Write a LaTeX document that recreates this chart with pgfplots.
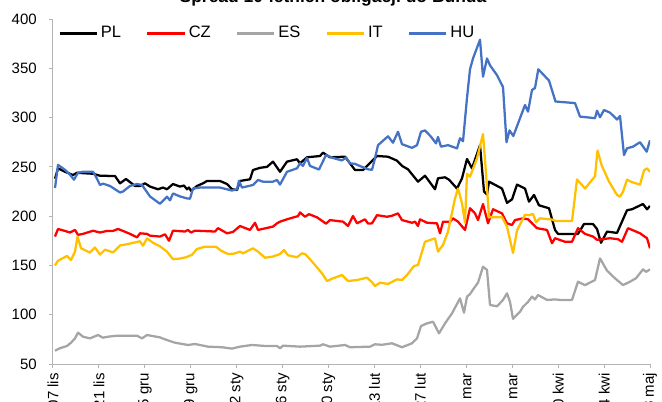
\documentclass[border=0pt]{standalone}
\usepackage{pgfplots}
\pgfplotsset{compat=1.18}
\usepackage{fontspec}
\setmainfont{Liberation Sans}
\definecolor{axisgray}{RGB}{180,180,180}
\definecolor{czred}{RGB}{255,0,0}
\definecolor{esgray}{RGB}{165,165,165}
\definecolor{itgold}{RGB}{255,192,0}
\definecolor{hublue}{RGB}{68,114,196}
\begin{document}
\begin{tikzpicture}
\begin{axis}[
  at={(0,0)}, anchor=south west,
  scale only axis,
  width=447.75pt, height=258.75pt,
  xmin=53, xmax=650, ymin=50, ymax=400,
  axis x line=bottom, axis y line=left,
  axis line style={draw=axisgray, line width=0.75pt, -},
  tick style={draw=axisgray, line width=0.75pt},
  tick align=outside, major tick length=3pt,
  xtick={53,98.92,144.85,190.77,236.69,282.62,328.54,374.46,420.38,466.31,512.23,558.15,604.08,650},
  xticklabels={07 lis,21 lis,05 gru,19 gru,02 sty,16 sty,30 sty,13 lut,27 lut,13 mar,27 mar,10 kwi,24 kwi,08 maj},
  ytick={50,100,...,400},
  /pgf/number format/assume math mode=true,
  tick label style={font=\fontsize{11.25pt}{13pt}\selectfont, text=black},
  xticklabel style={yshift=-3.75pt, rotate=90, anchor=east, inner sep=0pt},
  yticklabel style={anchor=east, inner sep=0pt, xshift=-9pt},
  line join=round,
  every axis plot/.append style={line width=1.7pt},
  legend columns=-1,
  legend image code/.code={\draw[#1, line width=2.2pt] (0pt,0pt) -- (28pt,0pt);},
  legend style={at={(rel axis cs:0.008,0.959)}, anchor=west, draw=none, fill=none,
    font=\fontsize{12.4pt}{14pt}\selectfont, inner sep=0pt,
    nodes={inner sep=2pt},
    /tikz/every even column/.append style={column sep=16.5pt}},
]
\addplot[black] coordinates {(55,238) (58,248.5) (65,245) (73,241.7) (77,244) (93,243) (100,241) (115,240.7) (120,233.3) (126,237.7) (135,230.6) (140,230.6) (145,233.3) (150,230) (158,227.3) (163,229) (167,227.3) (173,232.6) (180,230) (184,231) (187,227.3) (189,229) (191,225.7) (197,230.6) (203,233.3) (207,235.7) (220,235.7) (227,232.6) (232,227.3) (237,226.5) (240,235.7) (250,237.4) (253,246.8) (260,249) (267,250) (273,255.3) (280,245) (287,255.3) (297,257.7) (300,253.6) (307,259.7) (320,261) (323,264.4) (330,259.7) (345,260.3) (355,246.8) (363,246.8) (368,252) (377,261) (388,260.3) (397,256.3) (402,251) (408,247.5) (418,235) (425,241) (435,227.3) (438,238.4) (445,239.4) (449,237) (457,228) (462,238.4) (467,258) (472,248.5) (480,272) (484,225) (487,222) (489,235) (502,228) (507,213.5) (512,217) (517,232) (525,228) (529,214.7) (534,221.5) (539,211) (549,208) (555,186) (558,182) (578,182) (584,192) (593,192) (597,187) (601,173) (607,184.3) (617,183) (622,194.5) (627,206) (632,207) (643,212.3) (647,207) (650,210.3)};
\addlegendentry{PL}
\addplot[czred] coordinates {(55,179.3) (58,187) (65,185) (70,183.4) (75,186) (78,181) (83,182) (93,185.2) (100,183.4) (107,185) (113,185) (118,187) (123,185) (130,182) (137,178.5) (140,182.6) (147,182) (150,180.2) (160,179.3) (165,181.6) (169,175) (173,185.3) (185,184.4) (188,186) (191,183.4) (195,185.3) (215,184.4) (218,187.8) (227,182.6) (233,184) (240,190) (250,186) (255,193.3) (258,186) (273,189.4) (277,192.7) (280,194.4) (287,196.8) (293,198.6) (298,200) (300,203.8) (305,199.4) (309,202) (317,198.8) (326,192.4) (330,196) (343,194.4) (348,190) (353,200.2) (357,192.7) (365,196.8) (368,192.5) (372,192.7) (377,201) (387,199.4) (392,200.4) (398,202.8) (402,196) (412,193.3) (415,194.4) (418,190) (420,196.8) (427,193.3) (437,192.7) (440,182.6) (443,194.4) (450,194.4) (453,197.8) (458,194.4) (465,186) (470,208) (475,202.8) (478,196) (483,212.3) (488,192.7) (493,207) (502,202.8) (507,192.7) (512,191) (515,196) (523,197.8) (528,196.8) (532,192.7) (537,187.8) (547,186) (552,172.5) (555,177.6) (565,174) (572,174) (578,187.8) (585,182) (593,179.3) (597,176) (602,176.6) (610,177.6) (618,176.6) (622,174) (628,187.8) (640,182.6) (647,177.6) (650,167.4)};
\addlegendentry{CZ}
\addplot[esgray] coordinates {(55,63.5) (60,66) (67,68.3) (71,71.6) (75,76) (78,81.8) (83,77.7) (90,76) (98,79.4) (103,76.7) (108,77.7) (117,78.7) (137,78.7) (142,76) (147,79.4) (160,77) (165,75) (175,71.6) (188,69.3) (195,70.3) (208,67.6) (222,67) (232,65.6) (240,67.6) (252,69.3) (265,68.3) (277,68.3) (280,65.9) (283,68.6) (300,67.6) (320,68.6) (323,70) (330,67.6) (345,69.3) (350,67) (370,67.6) (375,70) (382,69.5) (392,71) (402,67) (412,71) (417,76) (421,88.5) (427,91.2) (433,92.9) (439,81.1) (445,91.2) (452,101.4) (460,116.6) (464,102) (467,118.3) (470,121) (475,128.4) (478,132.5) (483,148.7) (487,145.4) (490,109.9) (497,108.5) (503,115) (507,121.7) (510,113) (513,95.8) (520,103) (523,108) (528,113) (532,118.3) (535,115.5) (538,120) (547,115) (555,115.5) (560,115) (572,115) (578,133.5) (585,130) (595,135.2) (600,157.2) (607,144.7) (615,136.9) (623,130.1) (630,133.5) (636,137) (643,146) (646,143.5) (650,146)};
\addlegendentry{ES}
\addplot[itgold] coordinates {(55,150) (58,154.8) (67,159.6) (71,155.5) (75,164) (77.5,179.3) (81,167.4) (90,163) (95,168.2) (100,161) (105,166) (113,163.2) (120,170.3) (127,171.5) (140,174.5) (143,170) (147,177.4) (153,173) (160,169.4) (167,164) (173,156.3) (180,157) (186,158.3) (192,160.8) (197,166.7) (205,169) (216,169) (221,165) (228,161.5) (234,162) (240,164) (243,162.3) (253,167.4) (258,164) (265,157.8) (273,159) (280,161.6) (284,165.7) (288,160.3) (297,158.3) (302,162.3) (305,161.6) (310,156.3) (315,150.4) (322,142) (327,134.2) (333,136.9) (342,140.3) (348,134.2) (357,135.2) (367,137.6) (372,133) (375,129.1) (380,132.5) (388,131.2) (397,135.9) (402,135.2) (407,140.3) (414,149.4) (418,150.4) (425,174) (435,177.5) (438,164) (443,170.7) (448,184.4) (455,218) (458,228) (462,213) (465,193.3) (467,243) (470,240) (477,258.7) (483,283.3) (486,243.4) (489,199) (502,199) (507,189.4) (513,162.6) (517,185.5) (525,201.4) (529,201) (533,202.2) (536,194) (540,197.8) (552,196.5) (556,195) (572,195) (577,237.3) (585,228) (595,240.5) (597.5,266.4) (601.7,251.5) (609,235) (617,221.5) (620,219.7) (623,224.8) (627,237) (632,234.5) (640,232) (644,246.5) (647,248.5) (650,245)};
\addlegendentry{IT}
\addplot[hublue] coordinates {(55,228.5) (58,252) (65,247) (70,242) (74,237) (78,244) (83,245) (93,245) (96,240) (100,231.6) (103,233) (110,230.6) (120,224) (123,225) (130,230.6) (137,232.6) (142,231.6) (150,220) (160,212.5) (167,219.7) (170,216) (173,223) (180,220) (187,218) (190,217.7) (193,228) (200,229) (220,229) (232,226) (237,227.3) (239,236) (242,229) (253,231.6) (258,236.7) (263,235) (273,235) (277,236.7) (280,232) (287,245) (297,248.5) (300,253.6) (303,251) (307,259) (310,251) (319,247.3) (326,262) (333,259) (342,256.5) (346,259.6) (350,253.6) (355,253) (362,250) (368,247.5) (372,247) (375,258.7) (378,272) (388,281) (393,274.5) (398,285.6) (402,273) (412,269.3) (417,272) (421,285.6) (425,287) (431,280.6) (436,273.8) (438,280.3) (441,270.5) (448,272) (457,268.8) (460,279) (463,276) (467,320) (470,349) (473,360) (480,379) (483,341.5) (487,360) (490,353) (497,343) (503,331) (506.5,275) (509.5,287) (513.3,281.3) (525,312.8) (528,306) (532,328) (535,330) (538.3,349) (549,337.5) (555.5,316.3) (575,314.7) (580,301) (595,299.4) (597,307) (600,300.3) (604,307.7) (610,305) (617,298) (620,301.6) (624,262) (627,268.8) (633,270.5) (640,275) (646.7,265.4) (650,277)};
\addlegendentry{HU}
\end{axis}
\node[anchor=base, inner sep=0pt, font=\bfseries\fontsize{13.1pt}{15pt}\selectfont] at (210pt,271.5pt) {Spread 10-letnich obligacji do Bunda};
\pgfresetboundingbox
\useasboundingbox (-39.75pt,-27.75pt) rectangle (456.75pt,273pt);
\end{tikzpicture}
\end{document}
